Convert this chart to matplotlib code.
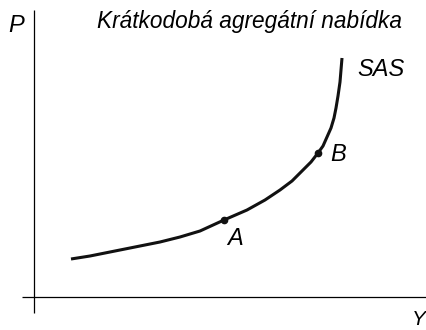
import matplotlib.pyplot as plt

# SAS curve (arbitrary units, origin at axis crossing)
sas_y = [3.7, 5.6, 7.6, 10.1, 12.6, 14.6, 16.6, 19.0, 21.3, 23.1, 24.6, 25.8,
         26.9, 27.7, 28.4, 28.9, 29.3, 29.7, 30.0, 30.2, 30.4, 30.6, 30.7, 30.8]
sas_p = [3.8, 4.1, 4.5, 5.0, 5.5, 6.0, 6.6, 7.7, 8.7, 9.7, 10.7, 11.6,
         12.7, 13.5, 14.4, 15.1, 16.0, 16.9, 17.9, 18.9, 20.1, 21.5, 22.7, 23.9]

point_names = ['A', 'B']
point_y = [19.0, 28.4]
point_p = [7.7, 14.4]

plt.rcParams['font.family'] = ['Liberation Sans', 'DejaVu Sans']

fig = plt.figure(figsize=(4.27, 3.30), dpi=100)
ax = fig.add_axes([0, 0, 1, 1])
ax.set_xlim(-3.4, 39.3)
ax.set_ylim(-3.3, 29.7)
ax.axis('off')

# axes
ax.plot([0, 0], [-1.6, 28.7], color='black', lw=0.9, solid_capstyle='butt')
ax.plot([-1.2, 39.3], [0, 0], color='black', lw=0.9, solid_capstyle='butt')

ax.plot(sas_y, sas_p, color='#111111', lw=2.2, solid_capstyle='butt',
        solid_joinstyle='round')
ax.plot(point_y, point_p, 'o', color='#111111', ms=4.5)

ax.text(-2.6, 26.5, 'P', fontsize=17, style='italic', ha='left', va='baseline')
ax.text(37.8, -3.2, 'Y', fontsize=15, style='italic', ha='left', va='bottom')
ax.text(6.3, 26.9, 'Krátkodobá agregátní nabídka', fontsize=16.3, style='italic',
        ha='left', va='baseline')
ax.text(32.3, 22.1, 'SAS', fontsize=17, style='italic', ha='left', va='baseline')
ax.text(19.3, 5.2, 'A', fontsize=17, style='italic', ha='left', va='baseline')
ax.text(29.6, 13.6, 'B', fontsize=17, style='italic', ha='left', va='baseline')

fig.savefig('out.png', dpi=100)
